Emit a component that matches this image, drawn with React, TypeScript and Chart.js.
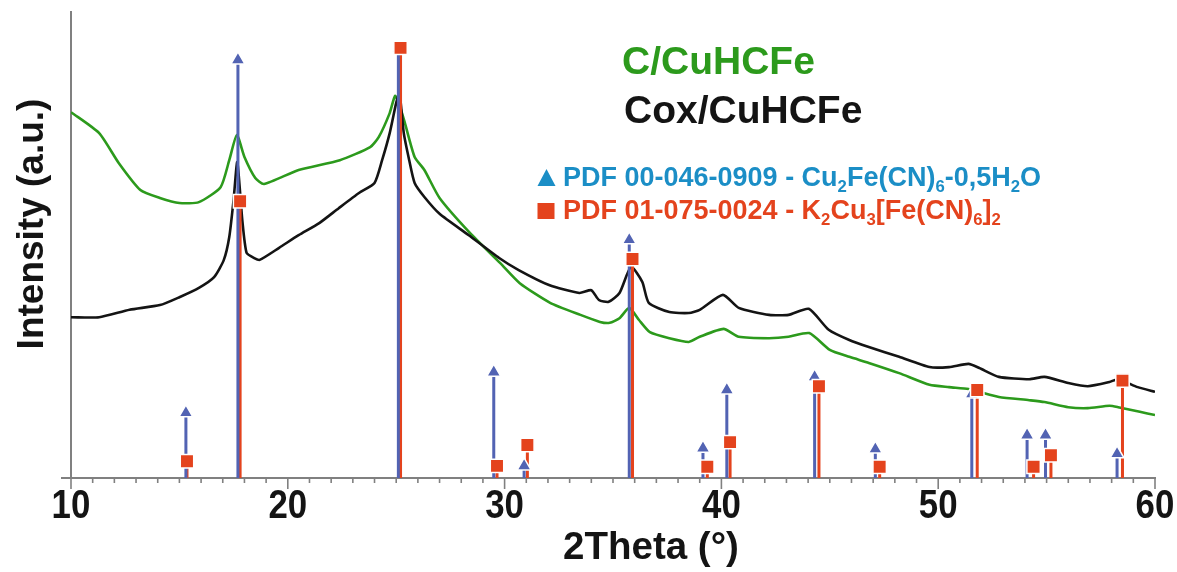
import React, { useEffect, useRef } from 'react';
import { Chart, registerables } from 'chart.js';

Chart.register(...registerables);

// ---- Data ----
// C/CuHCFe pattern (green)
const thetaC = [10.0, 11.3, 12.2, 13.2, 14.1, 15.0, 15.9, 16.9, 17.3, 17.65, 18.0, 18.5, 18.9, 20.5, 22.4, 23.8, 24.2, 24.7, 24.95, 25.15, 25.4, 25.85, 26.3, 27.0, 28.4, 29.8, 30.7, 32.1, 33.5, 34.4, 34.85, 35.3, 35.75, 36.2, 36.7, 37.6, 38.5, 39.0, 40.1, 40.8, 42.2, 43.1, 44.05, 45.0, 45.9, 46.8, 48.2, 49.6, 50.5, 51.4, 51.9, 52.8, 54.2, 54.9, 56.0, 56.9, 57.9, 58.3, 59.3, 60.0];
const intensityC = [78.5, 74.0, 67.6, 61.8, 60.1, 59.0, 59.2, 62.4, 68.2, 73.6, 68.9, 64.4, 63.1, 66.1, 68.2, 71.0, 73.2, 78.3, 82.0, 80.0, 76.2, 68.9, 66.1, 60.1, 52.6, 46.1, 41.8, 37.6, 35.0, 33.5, 33.3, 34.3, 36.5, 33.9, 31.3, 30.0, 29.2, 30.3, 32.0, 30.3, 30.0, 30.3, 31.1, 27.5, 26.0, 24.7, 22.5, 20.0, 19.5, 19.1, 18.5, 17.4, 16.7, 16.3, 15.2, 15.0, 15.5, 15.2, 14.2, 13.5];

// Cox/CuHCFe pattern (black)
const thetaCox = [10.0, 11.3, 12.7, 14.1, 15.0, 15.9, 16.6, 17.05, 17.3, 17.5, 17.67, 17.9, 18.1, 18.45, 18.7, 19.6, 20.5, 21.45, 22.35, 23.3, 24.0, 24.35, 24.7, 25.0, 25.15, 25.35, 25.6, 25.85, 26.3, 27.0, 28.35, 29.75, 30.65, 32.05, 33.45, 34.0, 34.35, 34.8, 35.3, 35.83, 36.35, 36.65, 37.6, 38.5, 39.0, 40.07, 40.8, 42.2, 43.1, 44.03, 44.95, 45.9, 46.8, 48.2, 49.6, 50.5, 51.4, 51.9, 52.8, 54.2, 54.9, 56.0, 56.9, 57.9, 58.3, 59.2, 60.0];
const intensityCox = [34.5, 34.5, 36.1, 37.1, 38.8, 40.8, 43.1, 46.8, 51.7, 59.7, 67.8, 55.4, 48.3, 47.2, 46.8, 49.4, 52.1, 54.7, 57.9, 61.2, 63.3, 68.2, 74.0, 80.5, 82.6, 74.0, 68.2, 63.3, 60.3, 56.7, 52.1, 47.2, 44.6, 41.4, 39.7, 40.3, 38.2, 37.8, 39.7, 45.3, 42.1, 37.6, 35.6, 35.4, 36.1, 39.3, 36.5, 35.0, 35.0, 36.3, 31.8, 29.6, 28.1, 26.0, 23.8, 23.8, 24.5, 23.6, 21.7, 21.2, 21.7, 20.4, 19.7, 20.6, 21.2, 19.5, 18.5];

// PDF 00-046-0909 reference peaks (blue triangles)
const pdf0909Theta = [15.3, 17.7, 25.1, 29.5, 30.9, 35.75, 39.15, 40.25, 44.3, 47.1, 51.55, 54.1, 54.95, 58.25];
const pdf0909Int = [14.0, 89.7, 92.1, 22.7, 2.6, 51.1, 6.4, 18.9, 21.7, 6.2, 18.0, 9.2, 9.2, 5.2];

// PDF 01-075-0024 reference peaks (red squares)
const pdf0024Theta = [15.35, 17.8, 25.2, 29.65, 31.05, 35.9, 39.35, 40.4, 44.5, 47.3, 51.8, 54.4, 55.2, 58.5];
const pdf0024Int = [3.6, 59.4, 92.3, 2.6, 7.1, 47.0, 2.4, 7.7, 19.7, 2.4, 18.9, 2.4, 4.9, 20.9];

const xTickLabels = [10, 20, 30, 40, 50, 60];
const xMinorStep = 1;

// ---- Styles ----
const GREEN = '#2c9a1c';
const BLACK = '#141414';
const BLUE_STICK = '#5263b3';
const BLUE_TEXT = '#1b8ec6';
const RED = '#e4431d';
const AXIS = '#808080';
const FONT = '"Liberation Sans", Arial, sans-serif';

type Run = { t: string; sub?: boolean };

function drawRuns(ctx: CanvasRenderingContext2D, x: number, y: number, runs: Run[], size: number, color: string) {
  ctx.fillStyle = color;
  ctx.textBaseline = 'middle';
  ctx.textAlign = 'left';
  let cx = x;
  for (const r of runs) {
    const s = r.sub ? size * 0.62 : size;
    ctx.font = `bold ${s}px ${FONT}`;
    ctx.fillText(r.t, cx, r.sub ? y + size * 0.3 : y);
    cx += ctx.measureText(r.t).width;
  }
}

const annotate = {
  id: 'annotate',
  afterDraw(chart: any) {
    const { ctx, chartArea } = chart;
    const x = chart.scales.x;
    ctx.save();
    // axis extension + tick marks
    ctx.strokeStyle = AXIS;
    ctx.lineWidth = 2;
    ctx.beginPath();
    ctx.moveTo(chartArea.left - 10, chartArea.bottom);
    ctx.lineTo(chartArea.left, chartArea.bottom);
    ctx.stroke();
    ctx.lineWidth = 1.6;
    for (let v = x.min; v <= x.max + 1e-9; v += xMinorStep) {
      const px = x.getPixelForValue(v);
      const major = xTickLabels.includes(Math.round(v));
      ctx.beginPath();
      ctx.moveTo(px, chartArea.bottom);
      ctx.lineTo(px, chartArea.bottom + (major ? 11 : 5));
      ctx.stroke();
    }

    // tick labels (condensed bold digits)
    ctx.fillStyle = BLACK;
    ctx.font = `bold 41px ${FONT}`;
    ctx.textAlign = 'center';
    ctx.textBaseline = 'middle';
    for (const v of xTickLabels) {
      const px = x.getPixelForValue(v);
      ctx.save();
      ctx.translate(px, chartArea.bottom + 29);
      ctx.scale(0.85, 1);
      ctx.fillText(String(v), 0, 0);
      ctx.restore();
    }

    // axis titles
    ctx.font = `bold 38.5px ${FONT}`;
    ctx.fillText('2Theta (°)', 651, 548);
    ctx.save();
    ctx.translate(33, 224);
    ctx.rotate(-Math.PI / 2);
    ctx.font = `bold 37px ${FONT}`;
    ctx.fillText('Intensity (a.u.)', 0, 0);
    ctx.restore();

    // sample legend
    drawRuns(ctx, 622, 63, [{ t: 'C/CuHCFe' }], 39, GREEN);
    drawRuns(ctx, 624, 112, [{ t: 'Cox/CuHCFe' }], 39, BLACK);

    // PDF legend
    ctx.fillStyle = BLUE_TEXT;
    ctx.beginPath();
    ctx.moveTo(546.5, 169);
    ctx.lineTo(555.5, 186);
    ctx.lineTo(537.5, 186);
    ctx.closePath();
    ctx.fill();
    drawRuns(ctx, 563, 179, [
      { t: 'PDF 00-046-0909 - Cu' }, { t: '2', sub: true }, { t: 'Fe(CN)' }, { t: '6', sub: true },
      { t: '-0,5H' }, { t: '2', sub: true }, { t: 'O' },
    ], 27, BLUE_TEXT);
    ctx.fillStyle = RED;
    ctx.fillRect(537.5, 203, 17, 16);
    drawRuns(ctx, 563, 212, [
      { t: 'PDF 01-075-0024 - K' }, { t: '2', sub: true }, { t: 'Cu' }, { t: '3', sub: true },
      { t: '[Fe(CN)' }, { t: '6', sub: true }, { t: ']' }, { t: '2', sub: true },
    ], 27, RED);
    ctx.restore();
  },
};

function sticks(theta: number[], h: number[]) {
  const pts: { x: number; y: number | null }[] = [];
  theta.forEach((t, i) => {
    pts.push({ x: t, y: 0 }, { x: t, y: h[i] }, { x: t, y: null });
  });
  return pts;
}

export default function App() {
  const ref = useRef<HTMLCanvasElement | null>(null);
  useEffect(() => {
    if (!ref.current) return;
    const chart = new Chart(ref.current, {
      type: 'line',
      data: {
        datasets: [
          {
            label: 'C/CuHCFe',
            data: thetaC.map((t, i) => ({ x: t, y: intensityC[i] })),
            borderColor: GREEN,
            borderWidth: 2.6,
            pointRadius: 0,
            tension: 0.2,
            order: 4,
          } as any,
          {
            label: 'Cox/CuHCFe',
            data: thetaCox.map((t, i) => ({ x: t, y: intensityCox[i] })),
            borderColor: BLACK,
            borderWidth: 2.6,
            pointRadius: 0,
            tension: 0.2,
            order: 3,
          },
          {
            label: 'PDF 00-046-0909 sticks',
            data: sticks(pdf0909Theta, pdf0909Int),
            borderColor: BLUE_STICK,
            borderWidth: 3,
            pointRadius: 0,
            spanGaps: false,
            borderCapStyle: 'butt',
            order: 2,
          },
          {
            label: 'PDF 01-075-0024 sticks',
            data: sticks(pdf0024Theta, pdf0024Int),
            borderColor: RED,
            borderWidth: 3,
            pointRadius: 0,
            spanGaps: false,
            borderCapStyle: 'butt',
            order: 2,
          },
          {
            type: 'scatter',
            label: 'PDF 00-046-0909',
            data: pdf0909Theta.map((t, i) => ({ x: t, y: pdf0909Int[i] })),
            pointStyle: 'triangle',
            pointRadius: 8,
            backgroundColor: BLUE_STICK,
            borderColor: '#ffffff',
            borderWidth: 1.5,
            order: 1,
          } as any,
          {
            type: 'scatter',
            label: 'PDF 01-075-0024',
            data: pdf0024Theta.map((t, i) => ({ x: t, y: pdf0024Int[i] })),
            pointStyle: 'rect',
            pointRadius: 9.5,
            backgroundColor: RED,
            borderColor: '#ffffff',
            borderWidth: 1.5,
            order: 0,
          } as any,
        ],
      },
      options: {
        animation: false,
        responsive: false,
        maintainAspectRatio: false,
        layout: { padding: { top: 12, right: 22, left: 0, bottom: 0 } },
        plugins: { legend: { display: false }, tooltip: { enabled: false } },
        scales: {
          x: {
            type: 'linear',
            min: 10,
            max: 60,
            offset: false,
            grid: { display: false, drawTicks: false, offset: false },
            border: { display: true, color: AXIS, width: 2 },
            afterBuildTicks: (s: any) => { s.ticks = xTickLabels.map((v) => ({ value: v })); },
            ticks: { display: false },
            afterFit: (s: any) => { s.height = 94; s.paddingLeft = 0; s.paddingRight = 0; },
          },
          y: {
            min: 0,
            max: 100,
            grid: { display: false, drawTicks: false },
            border: { display: true, color: AXIS, width: 2 },
            ticks: { display: false },
            afterFit: (s: any) => { s.width = 71; s.paddingTop = 0; s.paddingBottom = 0; },
          },
        },
      } as any,
      plugins: [annotate],
    });
    return () => chart.destroy();
  }, []);
  return (
    <div style={{ position: 'absolute', left: 0, top: 0, width: 1177, height: 572, background: '#fff' }}>
      <canvas ref={ref} width={1177} height={572} style={{ display: 'block' }} />
    </div>
  );
}
